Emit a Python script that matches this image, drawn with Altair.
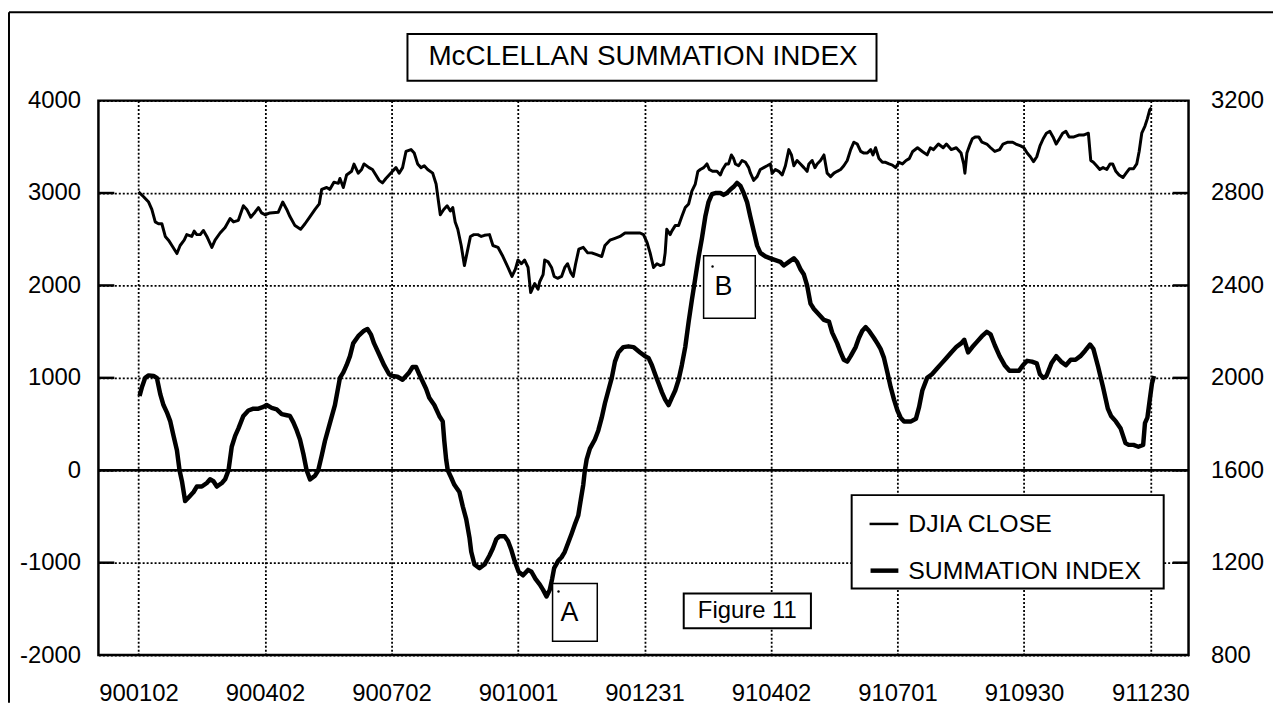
import altair as alt
import pandas as pd

# ---------------- data ----------------
TICK_LABELS = ["900102", "900402", "900702", "901001", "901231",
               "910402", "910701", "910930", "911230"]
DAYS_PER_TICK = 63            # trading days between two date labels
LEFT_TICKS = [-2000, -1000, 0, 1000, 2000, 3000, 4000]
RIGHT_TICKS = [800, 1200, 1600, 2000, 2400, 2800, 3200]

# (trading day, DJIA close)
DJIA_CLOSE = [
    (0, 2805), (2.5, 2784), (5.0, 2761), (6.6, 2729), (8.3, 2675), (9.9, 2667), (11.6, 2667),
    (13.3, 2612), (14.9, 2596), (16.6, 2573), (19.1, 2538), (20.7, 2573), (22.7, 2596),
    (24.0, 2620), (26.5, 2612), (27.7, 2635), (29.0, 2620), (30.7, 2620), (32.3, 2638),
    (34.0, 2612), (36.5, 2565), (38.1, 2596), (40.6, 2627), (43.1, 2651), (45.6, 2690),
    (47.3, 2675), (49.7, 2682), (52.2, 2745), (53.9, 2729), (55.9, 2695), (58.0, 2717),
    (59.7, 2737), (61.3, 2714), (63.0, 2706), (65.5, 2714), (69.6, 2717), (71.8, 2761),
    (73.8, 2729), (75.4, 2698), (77.9, 2659), (80.7, 2643), (82.9, 2667), (85.4, 2698),
    (87.9, 2729), (90.0, 2753), (91.2, 2816), (93.7, 2824), (95.3, 2816), (97.3, 2847),
    (99.5, 2842), (100.3, 2863), (102.0, 2824), (103.6, 2878), (106.1, 2894), (107.3, 2925),
    (109.4, 2886), (111.1, 2902),
    (112.3, 2926), (114.8, 2910), (116.5, 2902), (118.2, 2878), (119.8, 2855), (121.5, 2844),
    (123.2, 2863), (124.8, 2878), (126.5, 2894), (128.2, 2910), (129.8, 2886), (131.5, 2910),
    (133.2, 2980), (135.7, 2988), (137.3, 2973), (139.0, 2926), (140.7, 2910), (142.3, 2918),
    (144.0, 2902), (146.5, 2886), (148.2, 2839), (149.3, 2769), (150.3, 2706), (152.0, 2729),
    (153.7, 2745), (155.3, 2722), (156.5, 2737), (157.7, 2675), (159.0, 2643), (160.7, 2573),
    (162.3, 2486), (164.0, 2557), (165.3, 2612), (167.0, 2620), (169.0, 2620), (170.7, 2612),
    (172.3, 2617), (174.8, 2620), (176.5, 2573), (179.0, 2565), (181.5, 2525), (184.0, 2478),
    (186.0, 2439), (187.7, 2471), (189.0, 2510), (190.7, 2494), (192.3, 2510), (194.0, 2478),
    (195.3, 2369), (197.3, 2408), (199.0, 2384), (199.8, 2416), (201.5, 2447), (202.3, 2510),
    (204.0, 2502), (205.7, 2478), (207.0, 2439), (208.7, 2431), (210.7, 2439), (212.3, 2478),
    (213.7, 2494), (215.3, 2455), (216.5, 2439), (217.7, 2494), (219.3, 2557), (221.5, 2565),
    (223.7, 2541), (225.7, 2541), (228.2, 2533), (230.7, 2525), (232.3, 2573), (234.8, 2596),
    (237.3, 2604), (239.8, 2612), (242.3, 2627), (245.7, 2627),
    (247.3, 2627), (249.8, 2627), (251.5, 2620), (253.2, 2588), (254.8, 2541), (256.5, 2478),
    (258.2, 2494), (259.8, 2486), (261.5, 2491), (262.3, 2541), (263.1, 2643), (264.8, 2620),
    (265.6, 2635), (267.3, 2659), (269.0, 2659), (270.6, 2698), (272.3, 2737), (274.0, 2753),
    (275.6, 2808), (277.3, 2839), (278.6, 2894), (279.8, 2902), (281.5, 2910), (283.1, 2926),
    (284.3, 2902), (285.9, 2894), (288.1, 2894), (289.8, 2878), (290.9, 2902), (292.6, 2926),
    (293.9, 2926), (295.3, 2965), (296.4, 2949), (297.3, 2926), (298.9, 2918), (300.6, 2941),
    (302.3, 2933), (303.9, 2910), (304.8, 2886), (306.4, 2855), (308.1, 2871), (309.7, 2902),
    (311.4, 2910), (313.1, 2918), (314.7, 2926), (315.6, 2886), (317.2, 2902), (318.9, 2894),
    (320.6, 2878), (322.2, 2918), (323.9, 2988), (325.2, 2965), (326.4, 2918), (328.0, 2941),
    (329.7, 2926), (331.4, 2910), (333.0, 2894), (333.9, 2926), (335.5, 2941), (336.9, 2910),
    (338.0, 2926), (339.7, 2941), (341.4, 2965), (343.0, 2886), (344.7, 2871), (346.4, 2886),
    (348.0, 2894), (349.7, 2902), (351.3, 2918), (353.0, 2941), (354.7, 2988), (356.3, 3020),
    (358.0, 3012), (359.7, 2980), (361.3, 2973), (363.0, 2973), (364.7, 2988), (365.8, 2965),
    (367.1, 2996), (368.8, 2949), (370.5, 2933), (372.1, 2933), (373.8, 2926), (375.5, 2921),
    (377.1, 2910), (378.8, 2933), (380.5, 2926),
    (382.3, 2941), (383.9, 2949), (385.6, 2980), (388.0, 2996), (390.4, 2980), (392.8, 2965),
    (394.4, 2996), (396.0, 2988), (398.4, 3012), (400.8, 2996), (402.4, 3012), (404.8, 2988),
    (407.3, 2996), (409.7, 2973), (411.0, 2926), (411.6, 2886), (412.6, 2973), (414.2, 3012),
    (415.3, 3035), (416.9, 3043), (418.5, 3043), (420.1, 3020), (422.5, 3012), (424.4, 2996),
    (426.5, 2980), (428.9, 2988), (430.6, 3012), (433.0, 3020), (435.4, 3020), (437.0, 3012),
    (439.4, 3004), (441.0, 2996), (442.6, 2973), (444.2, 2957), (445.8, 2936), (447.4, 2957),
    (449.0, 3004), (450.6, 3035), (452.2, 3059), (453.9, 3067), (455.5, 3043), (457.1, 3012),
    (458.7, 3035), (460.3, 3059), (461.9, 3067), (463.5, 3043), (465.9, 3043), (468.3, 3051),
    (470.7, 3051), (473.1, 3059), (474.3, 2941), (475.6, 2933), (477.2, 2918), (478.8, 2902),
    (480.4, 2910), (482.3, 2902), (483.9, 2926), (485.2, 2926), (486.8, 2894), (488.4, 2878),
    (490.3, 2867), (491.9, 2886), (493.5, 2905), (495.6, 2905), (497.2, 2926), (498.4, 2980),
    (499.7, 3059), (501.3, 3090), (502.5, 3122), (503.7, 3161), (504.5, 3169),
]

# (trading day, McClellan summation index)
SUMMATION_INDEX = [
    (0.5, 804), (1.7, 902), (3.3, 1000), (5.0, 1027), (7.5, 1020), (9.1, 1000), (10.8, 824),
    (12.4, 706), (14.1, 627), (15.8, 529), (17.4, 373), (19.1, 216), (20.4, 0), (21.6, -118),
    (23.2, -333), (24.9, -294), (27.4, -235), (29.0, -176), (31.5, -176), (34.0, -137),
    (35.6, -98), (37.3, -118), (39.0, -176), (41.5, -137), (43.1, -98), (44.8, 0), (46.4, 255),
    (48.1, 373), (49.7, 451), (52.2, 588), (54.7, 647), (57.2, 667), (59.7, 667), (62.2, 686),
    (63.8, 706), (66.3, 675), (68.8, 659), (71.3, 608), (73.8, 596), (75.4, 588), (77.1, 518),
    (78.8, 431), (80.4, 333), (82.1, 176), (83.7, 0), (85.4, -98), (87.9, -59), (89.5, 0),
    (91.2, 157), (92.8, 314), (95.3, 510), (97.8, 706), (100.3, 1000), (102.0, 1059),
    (103.6, 1137), (105.3, 1235), (106.9, 1373), (109.4, 1451),
    (112.3, 1510), (114.0, 1529), (115.7, 1471), (117.3, 1373), (119.8, 1255), (122.3, 1137),
    (124.8, 1039), (126.5, 1020), (129.0, 1012), (131.5, 980), (133.2, 1020), (134.8, 1059),
    (136.5, 1118), (138.2, 1118), (139.8, 1039), (141.5, 961), (143.2, 882), (144.8, 784),
    (147.3, 706), (149.8, 588), (151.5, 529), (152.3, 314), (153.2, 118), (154.0, 0),
    (155.7, -78), (157.3, -157), (159.8, -235), (161.5, -392), (163.2, -529), (164.8, -725),
    (165.7, -882), (167.3, -1020), (169.8, -1059), (172.3, -1020), (174.8, -922), (176.5, -843),
    (178.2, -745), (179.8, -714), (182.3, -714), (184.0, -765), (185.7, -863), (187.3, -980),
    (189.3, -1098), (191.5, -1137), (194.0, -1078), (195.7, -1098), (197.7, -1176),
    (199.8, -1235), (201.5, -1294), (203.2, -1365), (204.8, -1294), (206.0, -1176),
    (207.0, -1059), (209.0, -980), (210.7, -941), (212.3, -882), (214.0, -784), (215.7, -686),
    (217.3, -588), (219.0, -490), (220.3, -314), (221.5, -157), (222.3, 0), (223.2, 118),
    (224.8, 235), (227.3, 333), (229.0, 431), (230.7, 569), (232.3, 725), (234.0, 863),
    (235.7, 1000), (237.3, 1176), (239.0, 1275), (241.5, 1333), (244.0, 1341), (246.5, 1333),
    (249.8, 1275), (252.3, 1235), (254.0, 1216), (255.7, 1137), (257.3, 1039), (259.0, 941),
    (260.7, 843), (262.3, 765), (264.0, 706), (265.6, 784), (267.3, 863), (269.0, 980),
    (270.6, 1137), (272.3, 1333), (274.0, 1608), (275.6, 1843), (277.3, 2078), (279.0, 2314),
    (280.6, 2510), (282.3, 2745), (283.9, 2902), (285.6, 2988), (287.3, 3000), (289.8, 3000),
    (291.4, 2980), (293.1, 3000), (294.8, 3039), (296.4, 3067), (298.1, 3110), (299.8, 3078),
    (301.4, 3000), (303.1, 2902), (304.7, 2745), (306.4, 2588), (308.1, 2431), (309.7, 2353),
    (312.2, 2314), (314.7, 2294), (317.2, 2275), (319.7, 2255), (321.4, 2216), (323.9, 2255),
    (326.4, 2294), (328.0, 2255), (329.7, 2176), (331.4, 2118), (333.0, 2000), (334.7, 1804),
    (336.4, 1745), (338.9, 1686), (341.4, 1627), (343.9, 1608), (345.5, 1490), (348.0, 1373),
    (349.7, 1275), (351.3, 1196), (353.0, 1176), (354.7, 1235), (357.2, 1333), (358.8, 1431),
    (360.5, 1510), (362.2, 1549), (363.8, 1510), (366.3, 1431), (368.0, 1373), (369.6, 1314),
    (371.3, 1216), (373.0, 1059), (374.6, 902), (376.3, 765), (378.0, 647), (379.6, 569),
    (381.3, 529),
    (384.8, 529), (387.2, 557), (388.8, 686), (390.4, 863), (392.8, 1000), (395.2, 1039),
    (397.6, 1098), (400.0, 1157), (402.4, 1216), (404.8, 1275), (407.3, 1333), (409.7, 1373),
    (411.3, 1412), (413.2, 1275), (415.3, 1333), (417.7, 1392), (420.1, 1451), (422.5, 1498),
    (424.4, 1471), (426.5, 1353), (428.9, 1235), (431.4, 1137), (433.8, 1078), (436.2, 1078),
    (438.6, 1078), (440.5, 1137), (442.6, 1184), (445.0, 1176), (447.4, 1157), (449.0, 1039),
    (450.6, 1000), (452.2, 1020), (454.7, 1157), (457.1, 1235), (459.5, 1176), (461.9, 1137),
    (464.3, 1196), (466.7, 1196), (469.1, 1235), (471.5, 1294), (473.9, 1361), (475.6, 1314),
    (478.0, 1118), (480.4, 902), (482.8, 667), (484.4, 588), (486.8, 529), (489.2, 451),
    (491.6, 294), (493.2, 275), (495.6, 275), (498.0, 255), (500.4, 275), (501.3, 510),
    (502.5, 569), (503.7, 765), (504.8, 941), (505.8, 1020),
]

TITLE = "McCLELLAN SUMMATION INDEX"
LEGEND_LABELS = ["DJIA CLOSE", "SUMMATION INDEX"]
FIGURE_LABEL = "Figure 11"
POINT_LABELS = ["A", "B"]

# ---------------- chart ----------------
W, H = 1097, 558
FONT = "Liberation Sans"

djia = pd.DataFrame(DJIA_CLOSE, columns=["day", "djia"])
si = pd.DataFrame(SUMMATION_INDEX, columns=["day", "si"])

tick_vals = [i * DAYS_PER_TICK for i in range(len(TICK_LABELS))]
label_expr = "[" + ",".join("'%s'" % t for t in TICK_LABELS) + "][round(datum.value/%d)]" % DAYS_PER_TICK

x_enc = alt.X(
    "day:Q",
    scale=alt.Scale(domain=[-20, 523], nice=False, zero=False),
    axis=alt.Axis(values=tick_vals, labelExpr=label_expr, grid=True, gridDash=[2, 2],
                  gridColor="#000", gridWidth=1.8, ticks=False, domain=False,
                  labelFont=FONT, labelFontSize=24, labelColor="#000", labelPadding=27,
                  title=None),
)
y_left = alt.Y(
    "si:Q",
    scale=alt.Scale(domain=[-2000, 4000], nice=False, zero=False),
    axis=alt.Axis(values=LEFT_TICKS, labelExpr="'' + datum.value", grid=True, gridDash=[2, 2],
                  gridColor="#000", gridWidth=1.8, ticks=False, domain=False, labelFont=FONT,
                  labelFontSize=24, labelColor="#000", labelPadding=18, title=None,
                  orient="left"),
)
y_right = alt.Y(
    "djia:Q",
    scale=alt.Scale(domain=[800, 3200], nice=False, zero=False),
    axis=alt.Axis(values=RIGHT_TICKS, labelExpr="'' + datum.value", grid=False, ticks=False,
                  domain=False, labelFont=FONT, labelFontSize=24, labelColor="#000",
                  labelPadding=22, title=None, orient="right"),
)

si_line = alt.Chart(si).mark_line(color="#000", strokeWidth=4.5, strokeJoin="round").encode(
    x=x_enc, y=y_left)
zero_rule = alt.Chart(pd.DataFrame({"si": [0]})).mark_rule(color="#000", strokeWidth=2.5).encode(
    y=y_left)
inner_ticks = pd.DataFrame({"si": LEFT_TICKS[1:-1]})
ticks_l = alt.Chart(inner_ticks).mark_rule(color="#000", strokeWidth=2.5).encode(
    y=y_left, x=alt.value(0), x2=alt.value(16))
ticks_r = alt.Chart(inner_ticks).mark_rule(color="#000", strokeWidth=2.5).encode(
    y=y_left, x=alt.value(W - 16), x2=alt.value(W))
left_layer = alt.layer(zero_rule, ticks_l, ticks_r, si_line)

djia_line = alt.Chart(djia).mark_line(color="#000", strokeWidth=3, strokeJoin="round").encode(
    x=x_enc, y=y_right)

one = pd.DataFrame({"k": [0]})


def box(x1, x2, y1, y2, sw=2):
    return alt.Chart(one).mark_rect(fill="white", stroke="#000", strokeWidth=sw).encode(
        x=alt.value(x1), x2=alt.value(x2), y=alt.value(y1), y2=alt.value(y2))


def label(txt, x, y, size, align="center"):
    return alt.Chart(pd.DataFrame({"t": [txt]})).mark_text(
        font=FONT, fontSize=size, color="#000", align=align, baseline="middle").encode(
        x=alt.value(x), y=alt.value(y), text="t:N")


def seg(x1, x2, y1, y2, sw):
    return alt.Chart(one).mark_rule(color="#000", strokeWidth=sw).encode(
        x=alt.value(x1), x2=alt.value(x2), y=alt.value(y1), y2=alt.value(y2))


dots = alt.Chart(pd.DataFrame({"px": [463, 618], "py": [494, 167]})).mark_circle(
    color="#000", size=6, opacity=1).encode(x=alt.X("px:Q", scale=None), y=alt.Y("py:Q", scale=None))

annotations = [
    # outer frame
    seg(-90, 1190, -89, -89, 2),
    seg(-90, -90, -89, 606, 2),
    # title
    box(311, 783, -67, -20), label(TITLE, 548, -44, 28),
    # legend
    box(758, 1072, 397, 491),
    seg(776, 805, 426, 426, 2.5), label(LEGEND_LABELS[0], 815, 426, 25, "left"),
    seg(777, 805, 473, 473, 4.5), label(LEGEND_LABELS[1], 815, 473, 25, "left"),
    # figure label
    box(589, 717, 496, 531), label(FIGURE_LABEL, 653, 514, 24),
    # A and B
    box(457, 502, 486, 544, 1.5), label(POINT_LABELS[0], 474, 516, 27),
    box(609, 661, 156, 219, 1.5), label(POINT_LABELS[1], 629, 188, 27),
    dots,
]

chart = alt.layer(left_layer, djia_line, *annotations).resolve_scale(
    y="independent", x="shared"
).properties(
    width=W, height=H,
    autosize=alt.AutoSizeParams(type="none"),
    padding={"left": 91, "top": 91, "right": 85, "bottom": 48},
    background="white",
).configure_view(stroke="#000", strokeWidth=2.5)

chart.save("out.html", embed_options={"renderer": "svg", "actions": False})
